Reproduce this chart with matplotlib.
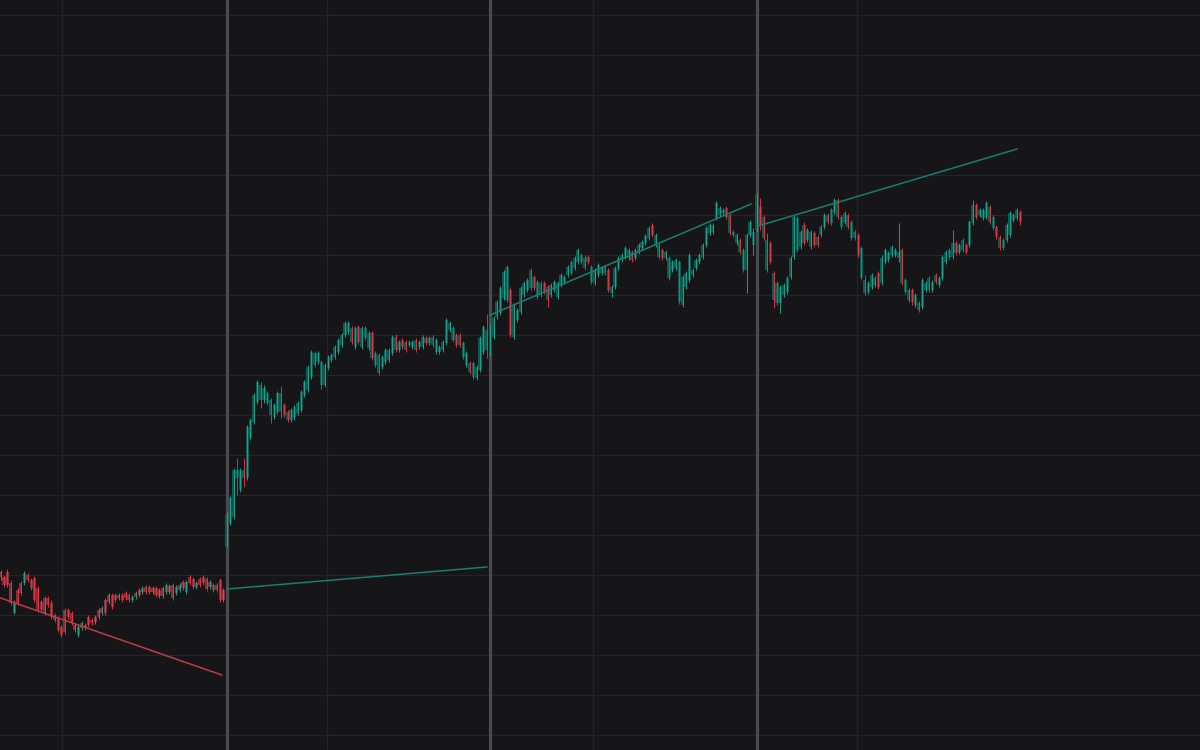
import matplotlib
matplotlib.use("Agg")
import matplotlib.pyplot as plt
import numpy as np

# ---------------- data (arbitrary price units) ----------------
# Section A (down-trend segment)
open_a = [178,178,183,172,142,165,172,172,180,175,177,167,153,157,157,152,140,137,128,145,
          145,142,125,120,127,130,138,135,133,138,142,155,153,160,160,157,160,162,160,155,
          158,160,163,168,168,163,167,159,159,163,163,170,162,165,173,163,178,176,168,176,
          178,176,168,170,170,175,155]
close_a = [183,170,170,152,152,152,162,182,175,167,155,145,145,142,150,138,135,125,120,123,
           138,132,130,128,132,127,130,132,138,145,147,142,160,148,155,160,155,157,155,158,
           162,165,167,163,163,167,160,165,167,170,169,157,168,170,167,173,172,168,172,170,
           172,166,173,165,165,155,165]
high_a = [185,180,186,175,155,167,174,184,182,177,179,169,155,159,159,155,142,139,130,147,
          147,144,132,130,134,132,140,137,140,147,149,157,162,162,162,162,162,164,162,160,
          164,167,169,170,170,169,169,167,169,172,171,172,170,172,175,175,180,178,174,178,
          180,178,175,172,172,177,167]
low_a = [175,168,168,150,141,150,160,170,173,165,153,143,143,140,148,136,133,123,118,121,
         136,130,123,118,125,125,128,130,131,136,140,140,151,146,153,155,153,155,153,153,
         156,158,161,161,161,161,158,157,157,161,161,155,160,163,165,161,170,166,166,168,
         170,164,166,163,163,153,153]

# Section B
open_b = [208,232,238,285,265,285,277,317,333,353,370,355,362,355,338,343,362,350,343,335,
          337,342,345,360,365,378,402,393,393,370,387,395,398,403,410,420,423,427,408,428,
          408,427,407,422,402,400,388,393,395,402,418,405,415,413,413,408,415,408,408,417,
          412,418,403,403,405,412,425,427,420,420,412,390,392,392,377,385,403,425]
close_b = [240,257,285,277,285,277,328,335,360,373,355,367,352,340,350,362,343,340,335,345,
           348,352,363,373,388,403,390,402,370,390,398,400,408,415,420,432,432,413,427,413,
           427,417,422,397,390,382,398,405,405,418,405,413,408,405,410,413,405,413,418,412,
           417,410,415,408,413,435,432,415,410,410,398,402,383,378,388,417,428,405]
high_b = [243,259,287,297,287,297,330,337,362,375,373,370,364,357,352,364,369,352,345,347,
          350,354,365,375,390,405,404,404,395,392,400,402,410,417,422,434,434,429,429,430,
          429,429,424,424,404,402,400,407,407,420,421,415,417,415,415,415,417,415,420,419,
          419,420,417,410,415,437,434,429,422,422,414,404,394,394,390,419,430,441]
low_b = [208,230,236,260,263,268,275,315,331,351,347,352,350,332,336,341,337,338,333,333,
         335,340,343,358,363,376,388,391,366,368,385,393,396,401,408,418,421,411,406,411,
         406,415,405,395,388,380,386,391,393,400,403,403,406,403,408,406,403,406,406,410,
         410,408,401,401,403,410,423,413,408,408,396,388,381,376,375,383,401,397]

# Section C
open_c = [402,418,438,442,457,488,465,418,435,443,460,465,485,478,473,472,472,468,460,465,
          458,470,473,480,493,487,493,500,497,498,488,472,480,482,488,485,462,468,487,495,
          498,497,503,497,503,507,512,517,530,510,510,505,497,497,485,487,493,450,468,475,
          480,487,493,498,510,522,523,537,540,542,547,540,523,512,515,505,485,520,510]
close_c = [428,437,453,467,483,455,420,450,445,467,472,475,467,467,458,460,463,455,470,473,
           472,480,478,488,482,497,505,493,487,493,473,485,490,487,482,465,468,487,497,500,
           507,505,495,505,510,513,519,527,520,520,498,497,503,477,493,495,453,478,482,500,
           485,495,500,510,527,530,530,552,547,545,538,522,520,520,503,485,520,533,523]
high_c = [430,439,455,469,485,490,468,452,447,469,474,477,487,480,475,474,474,470,472,475,
          474,482,480,490,495,499,507,502,500,500,490,487,492,489,490,487,470,489,499,502,
          509,507,505,507,512,515,521,529,532,522,512,507,505,499,495,497,495,480,484,502,
          487,497,502,512,529,532,532,554,549,547,549,542,525,522,517,507,522,535,527]
low_c = [400,416,436,440,455,453,418,416,433,441,458,463,465,465,456,458,461,448,458,463,
         456,468,471,478,480,485,491,491,485,491,471,470,478,480,480,463,458,466,485,493,
         496,495,493,495,501,505,510,515,518,508,496,495,495,475,483,485,451,448,466,473,
         478,485,491,496,508,520,521,535,538,540,536,520,518,510,501,483,462,518,500]

# Section D
open_d = [525,548,538,515,512,482,472,452,460,463,478,498,537,508,530,515,508,522,518,520,
          528,540,545,543,555,538,533,540,533,523,520,507,475,463,468,470,482,472,493,495,
          500,500,497,505,475,455,465,450,452,448,465,477,465,480,470,477,493,505,498,512,
          503,515,510,510,532,550,540,537,538,548,538,528,518,515,515,520,535,537,543]
close_d = [560,530,517,485,493,455,452,468,470,477,497,538,505,523,512,525,523,510,510,528,
           540,533,532,555,538,528,542,528,517,517,500,477,462,472,480,477,468,497,505,502,
           508,505,503,472,463,465,453,460,445,475,472,465,473,473,477,498,503,498,512,502,
           510,505,503,533,550,538,545,545,552,533,527,518,507,507,530,542,540,545,533]
high_d = [562,557,540,522,514,484,474,470,472,479,499,540,539,525,533,527,525,524,520,530,
          542,542,547,557,557,540,544,542,535,525,522,509,480,474,482,479,484,500,507,504,
          510,507,532,507,477,467,467,462,454,477,474,479,475,482,479,500,505,507,525,514,
          512,517,512,535,555,552,547,547,554,550,540,530,520,517,532,544,542,547,545]
low_d = [523,525,515,483,491,447,450,442,458,461,476,496,503,506,510,513,506,508,508,518,
         526,531,530,541,536,526,531,526,515,515,498,475,460,461,466,468,466,470,491,493,
         498,498,493,470,461,453,450,448,443,446,463,463,463,471,468,475,491,496,496,500,
         501,503,501,508,530,536,538,535,536,531,525,516,505,505,513,518,533,535,530]

# Trend lines (index, price)
trend_a_x, trend_a_y = [0, 65.5], [157, 80]
trend_b_x, trend_b_y = [67, 144], [166, 188]
trend_c_x, trend_c_y = [145, 222.3], [440, 551]
trend_d_x, trend_d_y = [224.4, 301.1], [529, 606]

# ---------------- assemble ----------------
sections = [(open_a, high_a, low_a, close_a),
            (open_b, high_b, low_b, close_b),
            (open_c, high_c, low_c, close_c),
            (open_d, high_d, low_d, close_d)]
for s in sections:
    assert len(set(len(v) for v in s)) == 1, [len(v) for v in s]

BG = '#161619'
GRID = '#232329'
SEP = '#4a4a53'
UP = '#1fae96'
DOWN = '#f23645'
BODY = ['#862f38', '#0d5a50', '#0d5a50', '#0d5a50']

opens, highs, lows, closes, body_cols = [], [], [], [], []
starts = []
for k, (o, h, l, c) in enumerate(sections):
    starts.append(len(opens))
    opens += o; highs += h; lows += l; closes += c
    body_cols += [BODY[k]] * len(o)

opens = np.array(opens, float); closes = np.array(closes, float)
highs = np.array(highs, float); lows = np.array(lows, float)
x = np.arange(len(opens))
wick_cols = [UP if c >= o else DOWN for o, c in zip(opens, closes)]

fig = plt.figure(figsize=(12, 7.5), dpi=100, facecolor=BG)
ax = fig.add_axes([0, 0, 1, 1])
ax.set_facecolor(BG)
ax.set_xlim(-0.2, 355.3)
ax.set_ylim(5, 755)

ax.set_yticks(np.arange(20, 741, 40))
ax.set_xticks([18.1, 96.6, 175.4, 253.6])
ax.grid(True, color=GRID, linewidth=0.9, zorder=0)
ax.tick_params(length=0, labelbottom=False, labelleft=False)
for sp in ax.spines.values():
    sp.set_visible(False)
ax.set_axisbelow(True)

for s in starts[1:]:
    ax.axvline(s, color=SEP, linewidth=2.3, zorder=1)

bottoms = np.minimum(opens, closes)
heights = np.maximum(np.abs(closes - opens), 1.0)
ax.bar(x, heights, bottom=bottoms, width=0.92, color=body_cols, linewidth=0, zorder=2)
ax.vlines(x, lows, highs, colors=wick_cols, linewidth=0.6, zorder=3)

ax.plot(trend_a_x, trend_a_y, color='#c23a47', linewidth=1.1, zorder=4)
for tx, ty in [(trend_b_x, trend_b_y), (trend_c_x, trend_c_y), (trend_d_x, trend_d_y)]:
    ax.plot(tx, ty, color='#1a7d6f', linewidth=1.1, zorder=4)

fig.savefig('out.png', dpi=100, facecolor=BG)
